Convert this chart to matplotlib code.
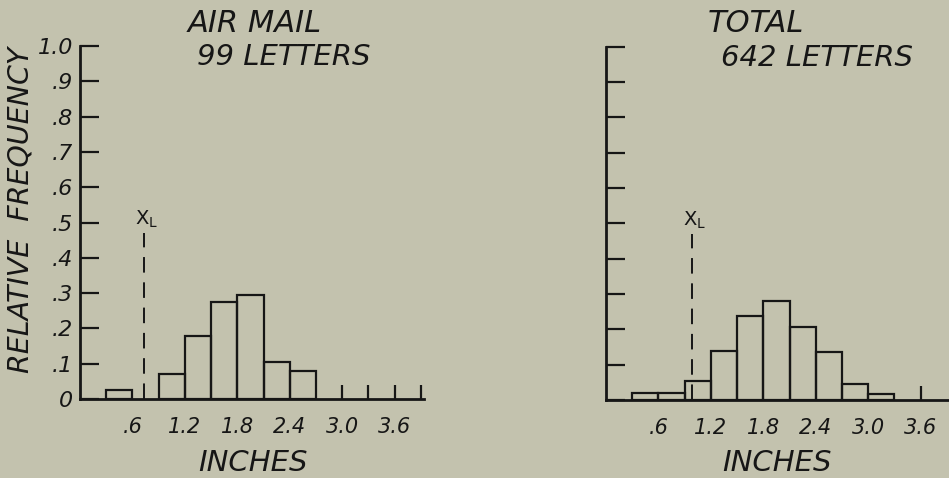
import matplotlib
matplotlib.use('Agg')
import matplotlib.pyplot as plt

# relative frequency of letter lengths, 0.3 inch bins (left edge of each bin)
BIN = 0.3
air_edges = [0.3, 0.9, 1.2, 1.5, 1.8, 2.1, 2.4]
air_freq = [0.025, 0.07, 0.18, 0.275, 0.295, 0.105, 0.08]
air_marks = [3.0, 3.3, 3.6, 3.9]
air_xl = 0.73

tot_edges = [0.3, 0.6, 0.9, 1.2, 1.5, 1.8, 2.1, 2.4, 2.7, 3.0]
tot_freq = [0.02, 0.02, 0.055, 0.14, 0.237, 0.28, 0.208, 0.135, 0.045, 0.017]
tot_marks = [3.6]
tot_xl = 0.98

xticks = [0.6, 1.2, 1.8, 2.4, 3.0, 3.6]
xlabels = ['.6', '1.2', '1.8', '2.4', '3.0', '3.6']
yticks = [0, .1, .2, .3, .4, .5, .6, .7, .8, .9, 1.0]
ylabels = ['0', '.1', '.2', '.3', '.4', '.5', '.6', '.7', '.8', '.9', '1.0']

BG = '#c3c2ae'
INK = '#161616'
FONT = dict(family='DejaVu Sans', style='oblique', color=INK)

fig = plt.figure(figsize=(9.49, 4.78), dpi=100, facecolor=BG)


def panel(rect, edges, freq, marks, xl, show_ylabels):
    ax = fig.add_axes(rect)
    ax.set_facecolor(BG)
    ax.bar(edges, freq, width=BIN, align='edge', fill=False,
           edgecolor=INK, linewidth=1.6)
    ax.vlines(marks, 0, 0.04, color=INK, linewidth=1.6)
    ax.vlines(xl, 0, 0.47, color=INK, linewidth=1.4,
              linestyles=(0, (8, 5)))
    ax.text(xl + 0.03, 0.51, r'X$_\mathregular{L}$', ha='center', va='center',
            fontsize=14, family='DejaVu Sans', color=INK)
    ax.set_xlim(0, 3.93)
    ax.set_ylim(0, 1.0)
    for s in ['top', 'right']:
        ax.spines[s].set_visible(False)
    for s in ['left', 'bottom']:
        ax.spines[s].set_linewidth(2.0)
        ax.spines[s].set_color(INK)
    ax.set_xticks(xticks)
    ax.set_xticklabels(xlabels, **FONT, fontsize=15)
    ax.tick_params(axis='x', length=0, pad=13)
    ax.set_yticks(yticks)
    if show_ylabels:
        ax.set_yticklabels(ylabels, **FONT, fontsize=16)
    else:
        ax.set_yticklabels([])
    ax.tick_params(axis='y', direction='in', length=14, width=1.6,
                   color=INK, pad=5)
    return ax


ax1 = panel([0.0843, 0.165, 0.362, 0.739], air_edges, air_freq, air_marks,
            air_xl, True)
ax2 = panel([0.6386, 0.163, 0.362, 0.739], tot_edges, tot_freq, tot_marks,
            tot_xl, False)

fig.text(255 / 949, 1 - 23 / 478, 'AIR MAIL', ha='center', va='center',
         fontsize=22, **FONT)
fig.text(284 / 949, 1 - 57 / 478, '99 LETTERS', ha='center', va='center',
         fontsize=21, **FONT)
fig.text(708 / 949, 1 - 23 / 478, 'TOTAL', ha='left', va='center',
         fontsize=22, **FONT)
fig.text(817 / 949, 1 - 58 / 478, '642 LETTERS', ha='center', va='center',
         fontsize=21, **FONT)
fig.text(21 / 949, 1 - 210 / 478, 'RELATIVE  FREQUENCY', rotation=90,
         ha='center', va='center', fontsize=20.5, **FONT)
fig.text(253 / 949, 1 - 463 / 478, 'INCHES', ha='center', va='center',
         fontsize=21, **FONT)
fig.text(777 / 949, 1 - 463 / 478, 'INCHES', ha='center', va='center',
         fontsize=21, **FONT)

fig.savefig('out.png', dpi=100, facecolor=BG)
